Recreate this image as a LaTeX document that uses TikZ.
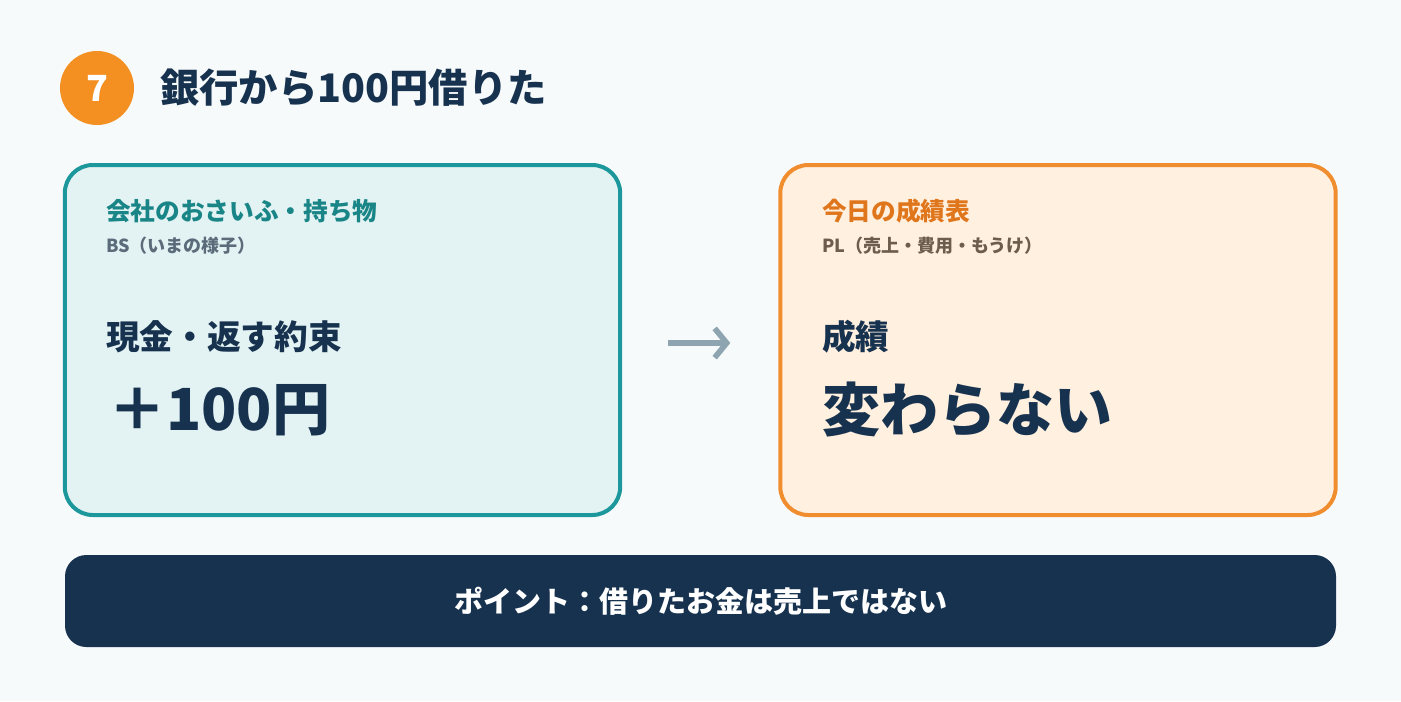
\documentclass[tikz,border=0pt]{standalone}
\usepackage{fontspec}
\setmainfont{Noto Sans CJK JP}
\usetikzlibrary{arrows.meta, positioning}
\definecolor{pagebg}{HTML}{F7FAFB}
\definecolor{stepor}{HTML}{F39021}
\definecolor{inkblue}{HTML}{17324F}
\definecolor{bsline}{HTML}{1C979B}
\definecolor{bsfill}{HTML}{E3F3F3}
\definecolor{bstext}{HTML}{1A8587}
\definecolor{bsgray}{HTML}{5B6B7A}
\definecolor{plline}{HTML}{F08D2E}
\definecolor{plfill}{HTML}{FFF0E0}
\definecolor{pltext}{HTML}{E0761C}
\definecolor{plgray}{HTML}{6E5D4E}
\definecolor{flowgray}{HTML}{8EA5B1}

\begin{document}
\begin{tikzpicture}[x=0.75pt, y=-0.75pt,
    panel/.style={draw, rectangle, rounded corners=21pt, line width=3pt, minimum width=416.5pt, minimum height=262.5pt},
    head/.style={anchor=west, inner sep=0pt, font=\fontsize{18.5}{20}\selectfont\bfseries},
    sub/.style={anchor=west, inner sep=0pt, font=\fontsize{13.5}{15}\selectfont\bfseries},
    item/.style={anchor=west, inner sep=0pt, font=\fontsize{25.25}{28}\selectfont\bfseries, inkblue},
    big/.style={anchor=west, inner sep=0pt, font=\fontsize{43.5}{48}\selectfont\bfseries, inkblue}]

    % Background
    \fill[pagebg] (0,0) rectangle (1401,701);
    \useasboundingbox (0,0) rectangle (1401,701);

    % Step heading
    \node[circle, fill=stepor, minimum size=55.5pt, inner sep=0pt, text=white, font=\fontsize{27}{30}\selectfont\bfseries] (stepno) at (97,88) {7};
    \node[anchor=west, inner sep=0pt, text=inkblue, font=\fontsize{29.5}{32}\selectfont\bfseries] (title) at (160,88) {銀行から100円借りた};

    % Balance sheet
    \node[panel, draw=bsline, fill=bsfill] (bs) at (342.5,340) {};
    \node[head, bstext] (bshead) at (106,211) {会社のおさいふ・持ち物};
    \node[sub, bsgray] (bssub) at (106,246) {BS（いまの様子）};
    \node[item] (bsitem) at (106,337) {現金・返す約束};
    \node[big] (bsval) at (108,410) {＋100円};

    % Income statement
    \node[panel, draw=plline, fill=plfill] (pl) at (1058,340) {};
    \node[head, pltext] (plhead) at (822,211) {今日の成績表};
    \node[sub, plgray] (plsub) at (822,246) {PL（売上・費用・もうけ）};
    \node[item] (plitem) at (822,337) {成績};
    \node[big] (plval) at (822,410) {変わらない};

    % Arrow
    \draw[-{Straight Barb[length=9pt, width=22pt]}, line width=4.25pt, flowgray, shorten <=34pt, shorten >=36pt] ([yshift=-2.25pt]bs.east) -- ([yshift=-2.25pt]pl.west);

    % Point
    \node[rectangle, rounded corners=16pt, fill=inkblue, minimum width=953.25pt, minimum height=69pt, text=white, font=\fontsize{21.75}{24}\selectfont\bfseries] (point) at (700.5,601) {ポイント：借りたお金は売上ではない};
\end{tikzpicture}
\end{document}
